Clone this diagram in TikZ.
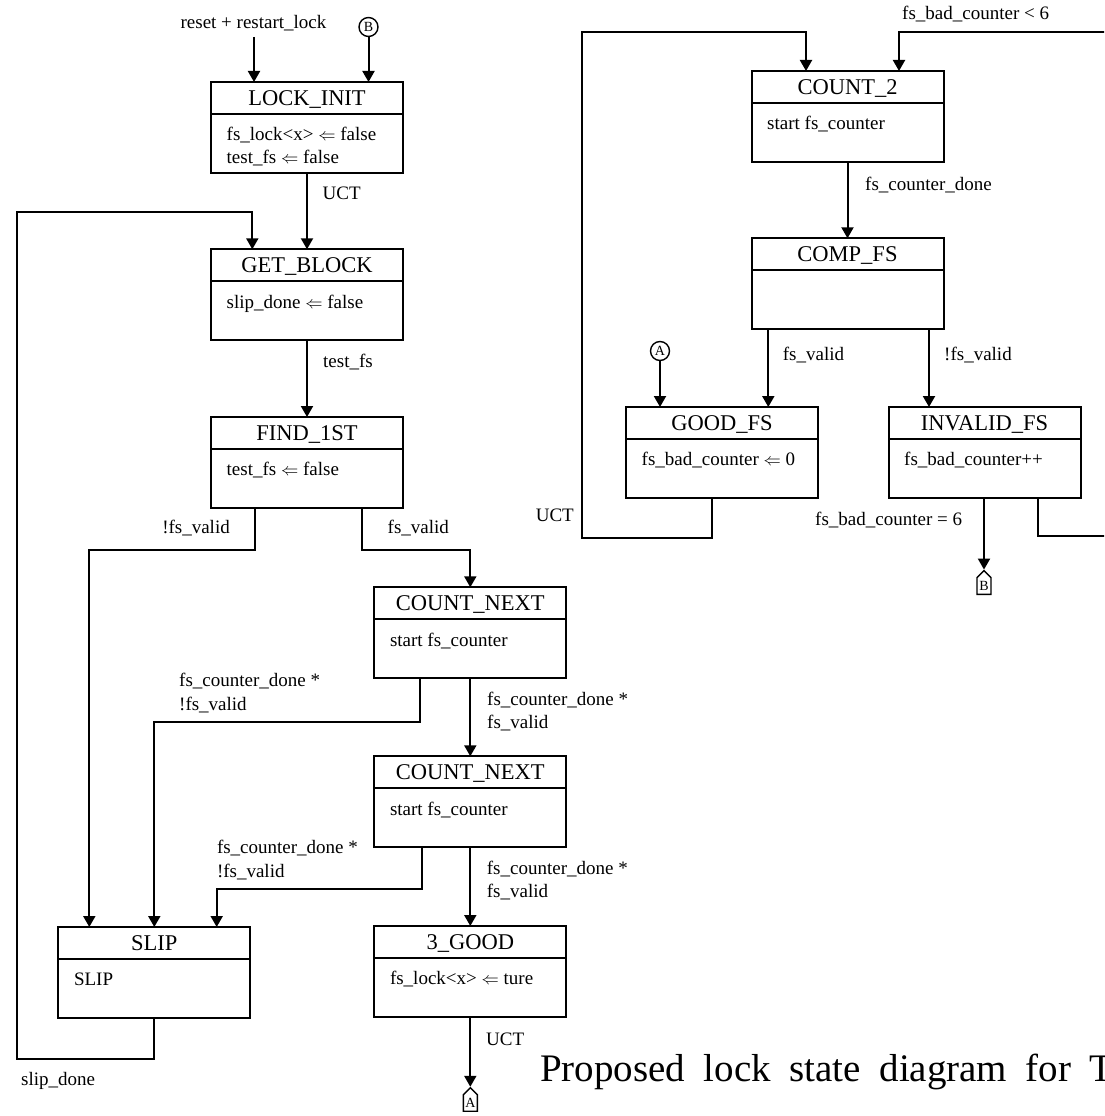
\documentclass[tikz,border=0pt]{standalone}
\usepackage{fontspec}
\setmainfont{Liberation Serif}
\usetikzlibrary{arrows.meta,shapes.symbols}

\tikzset{
 wire/.style={line width=2pt},
 arr/.style={wire,-{Triangle[width=12pt,length=11pt]}},
 statebox/.style={draw,line width=2pt,anchor=north west,minimum width=192pt,minimum height=91pt,inner sep=0pt,outer sep=0pt},
 boxline/.style={line width=2pt},
 titletext/.style={anchor=base,inner sep=0pt,font=\fontsize{22.5}{27}\selectfont},
 bodytext/.style={anchor=base west,inner sep=0pt,font=\fontsize{19}{22.6}\selectfont},
 lbl/.style={anchor=base west,inner sep=0pt,font=\fontsize{19}{23}\selectfont},
 lblr/.style={lbl,anchor=base east},
 conncirc/.style={circle,draw,line width=1.4pt,minimum size=19pt,inner sep=0pt,font=\fontsize{14}{14}\selectfont},
 conntag/.style={signal,signal to=north,draw,line width=1.4pt,minimum width=14pt,minimum height=22pt,inner sep=0.5pt,font=\fontsize{14}{14}\selectfont},
 captext/.style={anchor=base west,inner sep=0pt,font=\fontsize{39}{46}\selectfont}
}

\newcommand{\fsmstate}[5]{%
  \node[statebox] (#1) at (#2,#3) {};
  \draw[boxline] ([yshift=-31.8pt]#1.north west) -- ([yshift=-31.8pt]#1.north east);
  \node[titletext] (#1-title) at ([yshift=-23.5pt]#1.north) {#4};
  \node[bodytext] (#1-body) at ([xshift=15.5pt,yshift=-58.7pt]#1.north west) {#5};
}

\begin{document}
\begin{tikzpicture}[x=1pt,y=-1pt]
\useasboundingbox (0,0) rectangle (1104,1116);
\clip (0,0) rectangle (1104,1116);

% ---------- states ----------
\fsmstate{LOCK}{211}{82}{LOCK\_INIT}{fs\_lock<x> $\Leftarrow$ false}
\node[bodytext] (LOCK-body2) at ([xshift=15.5pt,yshift=-81.3pt]LOCK.north west) {test\_fs $\Leftarrow$ false};
\fsmstate{GET}{211}{249.3}{GET\_BLOCK}{slip\_done $\Leftarrow$ false}
\fsmstate{FIND}{211}{417}{FIND\_1ST}{test\_fs $\Leftarrow$ false}
\fsmstate{CNA}{374.3}{587.3}{COUNT\_NEXT}{start fs\_counter}
\fsmstate{CNB}{374.3}{756.3}{COUNT\_NEXT}{start fs\_counter}
\fsmstate{GOODTHREE}{374.3}{926}{3\_GOOD}{fs\_lock<x> $\Leftarrow$ ture}
\fsmstate{SLIP}{58.3}{927}{SLIP}{SLIP}
\fsmstate{CTWO}{751.5}{71}{COUNT\_2}{start fs\_counter}
\fsmstate{COMP}{751.5}{238.3}{COMP\_FS}{}
\fsmstate{GFS}{626}{407}{GOOD\_FS}{fs\_bad\_counter $\Leftarrow$ 0}
\fsmstate{IFS}{888.5}{407}{INVALID\_FS}{fs\_bad\_counter++}

% ---------- connectors (off-page symbols) ----------
\node[conncirc] (Bcirc) at (368.5,27) {B};
\node[conncirc] (Acirc) at (660,351) {A};
\node[conntag] (Atag) at (470.3,1103) {A};
\node[conntag] (Btag) at (984,586) {B};

% ---------- labels ----------
\node[lbl,anchor=base] (reset) at (253.5,29) {reset + restart\_lock};
\node[lbl] (l-uct1) at (322.5,199) {UCT};
\node[lbl] (l-testfs) at (323,367.5) {test\_fs};
\node[lblr] (l-nfv1) at (230,533.5) {!fs\_valid};
\node[lbl] (l-fv1) at (387.5,533.5) {fs\_valid};
\node[lbl] (l-cd1) at (179,686.5) {fs\_counter\_done *};
\node[lbl] (l-nfv2) at (179,710.5) {!fs\_valid};
\node[lbl] (l-cd2) at (487,705.5) {fs\_counter\_done *};
\node[lbl] (l-fv2) at (487,728.5) {fs\_valid};
\node[lbl] (l-cd3) at (216.8,853.5) {fs\_counter\_done *};
\node[lbl] (l-nfv3) at (216.8,877) {!fs\_valid};
\node[lbl] (l-cd4) at (486.7,874) {fs\_counter\_done *};
\node[lbl] (l-fv4) at (486.7,897.5) {fs\_valid};
\node[lbl] (l-uct2) at (486,1045) {UCT};
\node[lbl] (l-slip) at (21,1085) {slip\_done};
\node[lbl] (l-cd5) at (865,190) {fs\_counter\_done};
\node[lbl] (l-fv5) at (782.7,360) {fs\_valid};
\node[lbl] (l-nfv5) at (944,360) {!fs\_valid};
\node[lbl] (l-lt6) at (902,20) {fs\_bad\_counter < 6};
\node[lblr] (l-uct3) at (574,521.5) {UCT};
\node[lbl] (l-eq6) at (815,525) {fs\_bad\_counter = 6};

\node[captext] (caption) at (540,1081) {\spaceskip=18.5pt\relax Proposed lock state diagram for T};

% ---------- routing points ----------
\coordinate (rs) at (254,37);
\coordinate (c1) at (17.3,1058.5);
\coordinate (c2) at (252.3,212);
\coordinate (f1) at (254.6,550);
\coordinate (f2) at (89.3,550);
\coordinate (f3) at (361.8,550);
\coordinate (g1) at (419.7,722.3);
\coordinate (g2) at (421.7,889.3);
\coordinate (s3) at (216.7,889.3);
\coordinate (p1) at (768.3,0);
\coordinate (p2) at (929,0);
\coordinate (r0) at (712.3,538.3);
\coordinate (r1) at (581.7,538.3);
\coordinate (r2) at (806,32.3);
\coordinate (q0) at (1037.7,536);
\coordinate (q1) at (1130,536);
\coordinate (q2) at (899,32.3);

% ---------- transitions ----------
\draw[arr] (rs) -- (rs |- LOCK.north);
\draw[arr] (Bcirc.south) -- (Bcirc.south |- LOCK.north);
\draw[arr] (LOCK.south) -- (GET.north);
\draw[arr] (GET.south) -- (FIND.north);
\draw[arr] (FIND.south -| f1) -- (f1) -- (f2) -- (f2 |- SLIP.north);
\draw[arr] (FIND.south -| f3) -- (f3) -| (CNA.north);
\draw[arr] (CNA.south) -- (CNB.north);
\draw[arr] (CNA.south -| g1) |- (SLIP.north |- g1) -- (SLIP.north);
\draw[arr] (CNB.south) -- (GOODTHREE.north);
\draw[arr] (CNB.south -| g2) |- (s3) -- (s3 |- SLIP.north);
\draw[arr] (GOODTHREE.south) -- (Atag.north);
\draw[arr] (SLIP.south) |- (c1) |- (c2) -- (c2 |- GET.north);

\draw[arr] (CTWO.south) -- (COMP.north);
\draw[arr] (COMP.south -| p1) -- (p1 |- GFS.north);
\draw[arr] (COMP.south -| p2) -- (p2 |- IFS.north);
\draw[arr] (Acirc.south) -- (Acirc.south |- GFS.north);
\draw[arr] (GFS.south -| r0) -- (r0) -- (r1) |- (r2) -- (r2 |- CTWO.north);
\draw[arr] (IFS.south -| Btag.north) -- (Btag.north);
\draw[arr] (IFS.south -| q0) -- (q0) -- (q1) |- (q2) -- (q2 |- CTWO.north);
\end{tikzpicture}
\end{document}
